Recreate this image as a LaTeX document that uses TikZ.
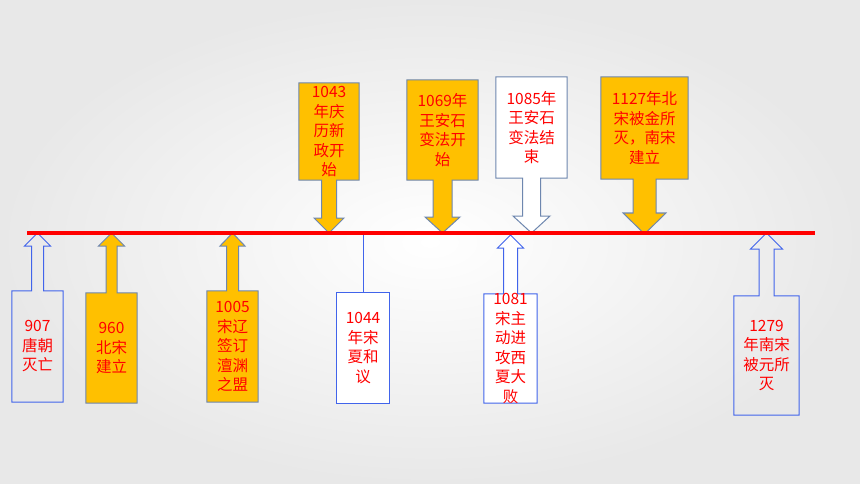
\documentclass[tikz,border=0pt]{standalone}
\usepackage{fontspec}
\setmainfont{Noto Sans CJK SC}
\definecolor{gold}{RGB}{255,192,0}
\definecolor{edgeblue}{RGB}{65,100,235}
\definecolor{edgegray}{RGB}{110,135,175}
\pgfdeclarelayer{back}
\pgfdeclarelayer{shapes}
\pgfsetlayers{back,shapes,main}
\tikzset{
  box/.style={inner sep=0pt, minimum width=#1},
  year/.style={inner sep=0pt, align=center, text=red, font=\fontsize{15.5}{19.5}\selectfont},
  goldcall/.style={fill=gold, draw=edgegray, line width=1pt},
  whitecall/.style={fill=white, draw=edgeblue, line width=1pt},
  clearcall/.style={draw=edgeblue, line width=1pt},
  graycall/.style={fill=white, draw=edgegray, line width=1pt}
}
% #1 style, #2 box, #3 tip, #4 shaft half width, #5 head half width, #6 head depth
\newcommand\upcall[6]{%
  \begin{pgfonlayer}{shapes}
  \draw[#1] (#2.south west) -- (#2.north west) -- ([xshift=-#4pt]#3 |- #2.north)
    -- ([xshift=-#4pt,yshift=-#6pt]#3) -- ([xshift=-#5pt,yshift=-#6pt]#3) -- (#3)
    -- ([xshift=#5pt,yshift=-#6pt]#3) -- ([xshift=#4pt,yshift=-#6pt]#3)
    -- ([xshift=#4pt]#3 |- #2.north) -- (#2.north east) -- (#2.south east) -- cycle;
  \end{pgfonlayer}}
\newcommand\downcall[6]{%
  \begin{pgfonlayer}{shapes}
  \draw[#1] (#2.north west) -- (#2.south west) -- ([xshift=-#4pt]#3 |- #2.south)
    -- ([xshift=-#4pt,yshift=#6pt]#3) -- ([xshift=-#5pt,yshift=#6pt]#3) -- (#3)
    -- ([xshift=#5pt,yshift=#6pt]#3) -- ([xshift=#4pt,yshift=#6pt]#3)
    -- ([xshift=#4pt]#3 |- #2.south) -- (#2.south east) -- (#2.north east) -- cycle;
  \end{pgfonlayer}}
\begin{document}
\begin{tikzpicture}[x=1pt,y=-1pt]
    \begin{pgfonlayer}{back}
    \shade[inner color=white, outer color=black!9] (0,0) rectangle (860,484);
    \end{pgfonlayer}
    \useasboundingbox (0,0) rectangle (860,484);
    % time line and tips
    \coordinate (L) at (27,233);
    \coordinate (R) at (815,233);
    \coordinate (t907) at (37.5,233);
    \coordinate (t960) at (111.5,233);
    \coordinate (t1005) at (232.5,233);
    \coordinate (t1043) at (329,233);
    \coordinate (t1044) at (363,233);
    \coordinate (t1069) at (442.5,233);
    \coordinate (t1081) at (510.5,235);
    \coordinate (t1085) at (531.5,233);
    \coordinate (t1127) at (644.5,234);
    \coordinate (t1279) at (766.5,233);
    % boxes
    \node[box=51, minimum height=111] (y907) at (37.5,346.5) {};
    \node[box=51, minimum height=110] (y960) at (111.5,348) {};
    \node[box=51, minimum height=111] (y1005) at (232.5,346.5) {};
    \node[box=52, minimum height=110] (y1044) at (363,348) {};
    \node[box=53, minimum height=109] (y1081) at (510.5,348.5) {};
    \node[box=65, minimum height=119] (y1279) at (766.5,355.5) {};
    \node[box=60, minimum height=97] (y1043) at (329,131.5) {};
    \node[box=71, minimum height=100] (y1069) at (442.5,130) {};
    \node[box=71, minimum height=101] (y1085) at (531.5,127.5) {};
    \node[box=87, minimum height=102] (y1127) at (644.5,128) {};
    % callouts
    \upcall{clearcall}{y907}{t907}{6}{13}{13}
    \upcall{goldcall}{y960}{t960}{5.5}{13}{13}
    \upcall{goldcall}{y1005}{t1005}{6}{12.5}{13}
    \upcall{whitecall}{y1081}{t1081}{7}{13}{13}
    \upcall{clearcall}{y1279}{t1279}{7.5}{16}{16}
    \downcall{goldcall}{y1043}{t1043}{7.5}{15}{15}
    \downcall{goldcall}{y1069}{t1069}{9.5}{17.5}{16}
    \downcall{graycall}{y1085}{t1085}{9}{18.5}{17}
    \downcall{goldcall}{y1127}{t1127}{11.5}{21.5}{21}
    \begin{pgfonlayer}{shapes}
    \draw[whitecall] (y1044.south west) rectangle (y1044.north east);
    \draw[clearcall] (t1044) -- (y1044.north);
    \end{pgfonlayer}
    \draw[red, line width=3.5pt] (L) -- (R);
    % texts
    \node[year] (n907) at (y907) {907\\唐朝\\灭亡};
    \node[year] (n960) at (y960) {960\\北宋\\建立};
    \node[year] (n1005) at (y1005) {1005\\宋辽\\签订\\澶渊\\之盟};
    \node[year] (n1044) at (y1044) {1044\\年宋\\夏和\\议};
    \node[year] (n1081) at (y1081) {1081\\宋主\\动进\\攻西\\夏大\\败};
    \node[year] (n1279) at (y1279) {1279\\年南宋\\被元所\\灭};
    \node[year] (n1043) at (y1043) {1043\\年庆\\历新\\政开\\始};
    \node[year] (n1069) at (y1069) {1069年\\王安石\\变法开\\始};
    \node[year] (n1085) at (y1085) {1085年\\王安石\\变法结\\束};
    \node[year] (n1127) at (y1127) {1127年北\\宋被金所\\灭，南宋\\建立};
\end{tikzpicture}
\end{document}
